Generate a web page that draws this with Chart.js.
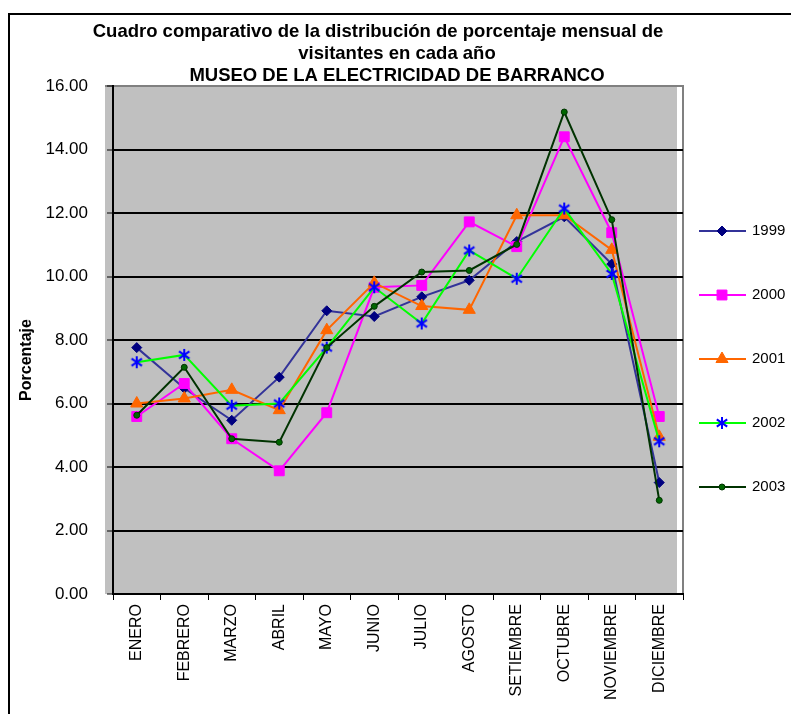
<!DOCTYPE html>
<html>
<head>
<meta charset="utf-8">
<script src="https://cdn.jsdelivr.net/npm/chart.js@4/dist/chart.umd.min.js"></script>
<style>
  html, body { margin: 0; padding: 0; background: #fff; }
  #wrap { width: 791px; height: 714px; position: relative; }
</style>
</head>
<body>
<div id="wrap"><canvas id="chart"></canvas></div>
<script>
// data
const months = ["ENERO", "FEBRERO", "MARZO", "ABRIL", "MAYO", "JUNIO", "JULIO", "AGOSTO", "SETIEMBRE", "OCTUBRE", "NOVIEMBRE", "DICIEMBRE"];
const years = ["1999", "2000", "2001", "2002", "2003"];
const v1999 = [7.76, 6.48, 5.47, 6.83, 8.92, 8.74, 9.36, 9.88, 11.10, 11.88, 10.39, 3.51];
const v2000 = [5.59, 6.63, 4.89, 3.88, 5.71, 9.66, 9.72, 11.72, 10.94, 14.40, 11.38, 5.59];
const v2001 = [6.00, 6.16, 6.43, 5.79, 8.31, 9.80, 9.07, 8.95, 11.93, 11.93, 10.84, 4.95];
const v2002 = [7.30, 7.53, 5.93, 6.00, 7.76, 9.66, 8.52, 10.82, 9.93, 12.14, 10.08, 4.81];
const v2003 = [5.63, 7.14, 4.89, 4.78, 7.76, 9.06, 10.14, 10.19, 11.01, 15.18, 11.79, 2.95];
const yTicks = [0, 2, 4, 6, 8, 10, 12, 14, 16];
const titleLines = [
  "Cuadro comparativo de la distribución de porcentaje mensual de",
  "visitantes en cada año",
  "MUSEO DE LA ELECTRICIDAD DE BARRANCO",
];
const yTitle = "Porcentaje";

const FONT = "Arial, 'Liberation Sans', sans-serif";

// excel-like asterisk marker: an X with a vertical stroke
function asterisk(color, size) {
  const c = document.createElement("canvas");
  c.width = size;
  c.height = size;
  const g = c.getContext("2d");
  const m = size / 2;
  const r = size / 2 - 1;
  g.strokeStyle = color;
  g.lineWidth = 2;
  g.beginPath();
  g.moveTo(m, m - r);
  g.lineTo(m, m + r);
  g.moveTo(m - r * 0.87, m - r * 0.6);
  g.lineTo(m + r * 0.87, m + r * 0.6);
  g.moveTo(m - r * 0.87, m + r * 0.6);
  g.lineTo(m + r * 0.87, m - r * 0.6);
  g.stroke();
  return c;
}

const styles = [
  { line: "#333399", fill: "#000080", stroke: "#000080", shape: "rectRot", r: 5 },
  { line: "#FF00FF", fill: "#FF00FF", stroke: "#FF00FF", shape: "rect", r: 7 },
  { line: "#FF6600", fill: "#FF6600", stroke: "#FF6600", shape: "triangle", r: 7 },
  { line: "#00FF00", fill: "#0000FF", stroke: "#0000FF", shape: asterisk("#0000FF", 14), r: 7 },
  { line: "#003300", fill: "#006600", stroke: "#003300", shape: "circle", r: 3 },
];
const series = [v1999, v2000, v2001, v2002, v2003];

const datasets = years.map((y, i) => ({
  label: y,
  data: series[i],
  borderColor: styles[i].line,
  borderWidth: 2,
  pointStyle: styles[i].shape,
  pointRadius: styles[i].r,
  pointHoverRadius: styles[i].r,
  pointBackgroundColor: styles[i].fill,
  pointBorderColor: styles[i].stroke,
  pointBorderWidth: 1,
  tension: 0,
  fill: false,
  order: years.length - 1 - i,
}));

// background, frame, titles and legend
const decor = {
  id: "decor",
  beforeDraw(chart) {
    const { ctx, chartArea: a } = chart;
    ctx.save();
    ctx.fillStyle = "#C0C0C0";
    ctx.fillRect(105, a.top, 677 - 105, a.bottom - a.top);
    ctx.strokeStyle = "#808080";
    ctx.lineWidth = 2;
    ctx.beginPath();
    ctx.moveTo(105, a.top);
    ctx.lineTo(a.right + 1, a.top);
    ctx.moveTo(a.right, a.top);
    ctx.lineTo(a.right, a.bottom);
    ctx.stroke();
    ctx.restore();
  },
  afterDraw(chart) {
    const { ctx } = chart;
    ctx.save();
    // outer frame (runs off the right and bottom)
    ctx.strokeStyle = "#000";
    ctx.lineWidth = 2;
    ctx.strokeRect(9, 14, 900, 900);

    ctx.fillStyle = "#000";
    ctx.font = `bold 18.5px ${FONT}`;
    ctx.textAlign = "center";
    ctx.textBaseline = "alphabetic";
    ctx.fillText(titleLines[0], 378, 37);
    ctx.fillText(titleLines[1], 397, 59);
    ctx.fillText(titleLines[2], 397, 81);

    ctx.save();
    ctx.translate(27, 360);
    ctx.rotate(-Math.PI / 2);
    ctx.font = `bold 16px ${FONT}`;
    ctx.textBaseline = "middle";
    ctx.fillText(yTitle, 0, 0);
    ctx.restore();

    // legend
    chart.data.datasets.forEach((ds, i) => {
      const y = 231 + i * 64;
      ctx.strokeStyle = ds.borderColor;
      ctx.lineWidth = 2;
      ctx.beginPath();
      ctx.moveTo(699, y);
      ctx.lineTo(746, y);
      ctx.stroke();
      ctx.fillStyle = ds.pointBackgroundColor;
      ctx.strokeStyle = ds.pointBorderColor;
      ctx.lineWidth = ds.pointBorderWidth;
      Chart.helpers.drawPoint(ctx, { pointStyle: ds.pointStyle, radius: ds.pointRadius, rotation: 0, borderWidth: ds.pointBorderWidth }, 722, y);
      ctx.fillStyle = "#000";
      ctx.font = `15px ${FONT}`;
      ctx.textAlign = "left";
      ctx.textBaseline = "middle";
      ctx.fillText(ds.label, 752, y);
    });
    ctx.restore();
  },
};

new Chart(document.getElementById("chart"), {
  type: "line",
  data: { labels: months, datasets },
  options: {
    responsive: true,
    maintainAspectRatio: false,
    animation: false,
    events: [],
    layout: { padding: { left: 0, top: 86, right: 108, bottom: 0 } },
    plugins: { legend: { display: false }, title: { display: false }, tooltip: { enabled: false } },
    scales: {
      x: {
        type: "category",
        offset: true,
        afterFit: (s) => { s.height = 120; },
        grid: { drawOnChartArea: false, drawTicks: true, tickLength: 6, tickColor: "#000", tickWidth: 1, offset: true },
        border: { display: true, color: "#000", width: 2 },
        ticks: { color: "#000", font: { family: FONT, size: 16 }, minRotation: 90, maxRotation: 90, padding: 4, autoSkip: false },
      },
      y: {
        min: 0,
        max: 16,
        afterBuildTicks: (s) => { s.ticks = yTicks.map((v) => ({ value: v })); },
        afterFit: (s) => { s.width = 113; },
        grid: {
          color: (c) => (c.tick && c.tick.value === 16 ? "rgba(0,0,0,0)" : "#000"),
          lineWidth: 2,
          tickLength: 6,
          tickColor: "#000",
          tickWidth: 1,
        },
        border: { display: true, color: "#000", width: 2 },
        ticks: { color: "#000", font: { family: FONT, size: 17 }, padding: 19, callback: (v) => Number(v).toFixed(2) },
      },
    },
  },
  plugins: [decor],
});
</script>
</body>
</html>
